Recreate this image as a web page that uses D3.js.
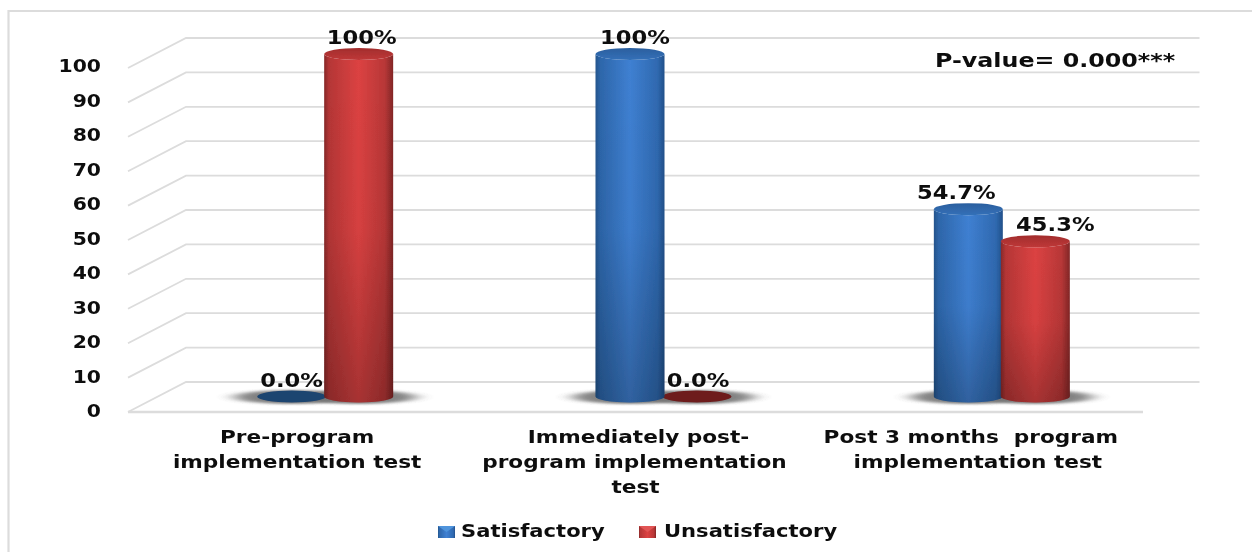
<!DOCTYPE html>
<html>
<head>
<meta charset="utf-8">
<script src="https://cdn.jsdelivr.net/npm/d3@7"></script>
<style>
  html, body { margin: 0; padding: 0; background: #fff; }
  text { font-family: "DejaVu Sans", Verdana, sans-serif; font-weight: bold; fill: #111; }
</style>
</head>
<body>
<svg id="chart" width="1252" height="552"></svg>
<script>
// values
const categories = ['Pre-program implementation test', 'Immediately post-program implementation test', 'Post 3 months program implementation test'];
const categoryLines = [
  ['Pre-program', 'implementation test'],
  ['Immediately post-', 'program implementation', 'test'],
  ['Post 3 months  program', 'implementation test']
];
const seriesNames = ['Satisfactory', 'Unsatisfactory'];
const satisfactory = [0, 100, 54.7];
const unsatisfactory = [100, 0, 45.3];
const labelsSatisfactory = ['0.0%', '100%', '54.7%'];
const labelsUnsatisfactory = ['100%', '0.0%', '45.3%'];
const yTicks = [0, 10, 20, 30, 40, 50, 60, 70, 80, 90, 100];
const pValue = 'P-value= 0.000***';

const width = 1252, height = 552;
const svg = d3.select('#chart');
const defs = svg.append('defs');

// text in the source is stretched sideways, keep it real text and widen it
function stretch(sel, k) {
  sel.each(function () {
    const len = this.getComputedTextLength();
    d3.select(this).attr('textLength', len * k).attr('lengthAdjust', 'spacingAndGlyphs');
  });
}

function cylGradient(id, stops) {
  const g = defs.append('linearGradient').attr('id', id);
  stops.forEach(s => g.append('stop').attr('offset', s[0]).attr('stop-color', s[1]));
}
cylGradient('blueBody', [[0, '#24548c'], [0.07, '#2d66aa'], [0.5, '#3f80d2'], [0.9, '#2f69b0'], [1, '#22508a']]);
cylGradient('redBody', [[0, '#862828'], [0.07, '#b53636'], [0.5, '#dc4242'], [0.88, '#b83737'], [1, '#822626']]);

const shade = defs.append('linearGradient').attr('id', 'shade').attr('x2', 0).attr('y2', 1);
shade.append('stop').attr('offset', 0).attr('stop-color', '#000').attr('stop-opacity', 0);
shade.append('stop').attr('offset', 0.5).attr('stop-color', '#000').attr('stop-opacity', 0.03);
shade.append('stop').attr('offset', 1).attr('stop-color', '#000').attr('stop-opacity', 0.24);

const topBlue = defs.append('linearGradient').attr('id', 'blueTop').attr('x2', 0).attr('y2', 1);
topBlue.append('stop').attr('offset', 0).attr('stop-color', '#2b5f9e');
topBlue.append('stop').attr('offset', 1).attr('stop-color', '#3370b8');
const topRed = defs.append('linearGradient').attr('id', 'redTop').attr('x2', 0).attr('y2', 1);
topRed.append('stop').attr('offset', 0).attr('stop-color', '#a22d2d');
topRed.append('stop').attr('offset', 1).attr('stop-color', '#bf3838');

defs.append('filter').attr('id', 'soft').attr('x', '-40%').attr('y', '-150%').attr('width', '180%').attr('height', '400%')
  .append('feGaussianBlur').attr('stdDeviation', '9 1.3');
defs.append('filter').attr('id', 'fuzz').attr('x', 0).attr('y', 0)
  .attr('filterUnits', 'userSpaceOnUse').attr('width', width).attr('height', height)
  .append('feGaussianBlur').attr('stdDeviation', 0.45);

const root = svg.append('g').attr('filter', 'url(#fuzz)');

// outer frame, only left and top show
root.append('path')
  .attr('d', `M8.5,${height} V11 H${width}`)
  .attr('fill', 'none').attr('stroke', '#dcdcdc').attr('stroke-width', 2.2);

// scales
const x0 = d3.scaleBand().domain(d3.range(categories.length)).range([156, 1171]);
const x1 = d3.scalePoint().domain(seriesNames).range([-33.5, 33.5]);
const yWall = d3.scaleLinear().domain([0, 100]).range([382, 38]);
const yBar = d3.scaleLinear().domain([0, 100]).range([396.5, 54]);
const yLabel = d3.scaleLinear().domain([0, 100]).range([411, 66]);

// back wall gridlines with the side wall going down to the left
const wallLeft = 186, wallRight = 1199.5, sideLeft = 128, floorDrop = 30, floorRight = 1143;
const grid = root.append('g').attr('fill', 'none').attr('stroke', '#dcdcdc').attr('stroke-width', 1.8);
grid.selectAll('path').data(yTicks).join('path')
  .attr('d', d => `M${sideLeft},${yWall(d) + floorDrop} L${wallLeft},${yWall(d)} H${wallRight}`);
grid.append('path')
  .attr('d', `M${sideLeft},${yWall(0) + floorDrop} H${floorRight}`)
  .attr('stroke-width', 2.4);

// y axis labels
const yAxis = root.append('g')
  .attr('transform', 'translate(101,0)')
  .call(d3.axisLeft(yLabel).tickValues(yTicks).tickSize(0).tickPadding(0));
yAxis.select('.domain').remove();
yAxis.selectAll('text').style('font-size', '18px').attr('fill', null);
yAxis.attr('font-family', null).attr('font-size', null);
stretch(yAxis.selectAll('text'), 1.13);

// one row per bar
const bars = [];
categories.forEach((c, i) => {
  bars.push({ i, series: seriesNames[0], value: satisfactory[i], label: labelsSatisfactory[i], key: 'blue' });
  bars.push({ i, series: seriesNames[1], value: unsatisfactory[i], label: labelsUnsatisfactory[i], key: 'red' });
});
const rx = 34.5, ry = 6;
const barX = d => x0(d.i) + x0.bandwidth() / 2 + x1(d.series);

// shadows on the floor
root.append('g').selectAll('ellipse').data(bars).join('ellipse')
  .attr('cx', barX).attr('cy', yBar(0) + 0.5)
  .attr('rx', rx + 22).attr('ry', 7)
  .attr('fill', '#757575').attr('opacity', 0.9)
  .attr('filter', 'url(#soft)');

// cylinders, flat ones go behind their neighbour
const ordered = d3.sort(bars, d => d.value === 0 ? 0 : 1);
const cyl = root.append('g').selectAll('g').data(ordered).join('g');
const bodyPath = d => {
  const cx = barX(d), t = yBar(d.value), b = yBar(0);
  return `M${cx - rx},${t} V${b} A${rx},${ry} 0 0 0 ${cx + rx},${b} V${t} A${rx},${ry} 0 0 1 ${cx - rx},${t} Z`;
};
cyl.filter(d => d.value > 0).append('path').attr('d', bodyPath).attr('fill', d => `url(#${d.key}Body)`);
cyl.filter(d => d.value > 0).append('path').attr('d', bodyPath).attr('fill', 'url(#shade)');
cyl.append('ellipse')
  .attr('cx', barX).attr('cy', d => yBar(d.value))
  .attr('rx', rx).attr('ry', ry)
  .attr('fill', d => d.value === 0 ? (d.key === 'blue' ? '#1f4470' : '#6e1c1c') : `url(#${d.key}Top)`);

// data labels were moved by hand in the source
const labelShift = { blue: [0, 5, -12], red: [3, 1, 20] };
const dataLabels = root.append('g').selectAll('text').data(bars).join('text')
  .attr('x', d => barX(d) + labelShift[d.key][d.i])
  .attr('y', d => yBar(d.value) - 10)
  .attr('text-anchor', 'middle')
  .style('font-size', '20px')
  .text(d => d.label);
stretch(dataLabels, 1.13);

// category labels
const catShift = -28;
const lineShift = [[0, 0], [3, -1, 0], [-3, 4]];
const catG = root.append('g').selectAll('g').data(categoryLines).join('g');
const catText = catG.selectAll('text').data((lines, i) => lines.map((t, j) => ({ t, i, j }))).join('text')
  .attr('x', d => x0(d.i) + x0.bandwidth() / 2 + catShift + lineShift[d.i][d.j])
  .attr('y', d => 443 + d.j * 25)
  .attr('text-anchor', 'middle')
  .style('white-space', 'pre')
  .style('font-size', '18px')
  .text(d => d.t);
stretch(catText, 1.2);

// p-value note
stretch(root.append('text')
  .attr('x', 935).attr('y', 67)
  .style('font-size', '19px')
  .text(pValue), 1.25);

// legend
const legendSwatch = [438, 639], legendText = [461, 664];
const legend = root.append('g').selectAll('g').data(seriesNames).join('g');
legend.append('rect')
  .attr('x', (d, i) => legendSwatch[i]).attr('y', 526)
  .attr('width', 17).attr('height', 12)
  .attr('fill', (d, i) => i ? 'url(#redBody)' : 'url(#blueBody)');
legend.append('path')
  .attr('d', (d, i) => `M${legendSwatch[i]},526 h17 l-8.5,6 Z`)
  .attr('fill', (d, i) => i ? '#e25555' : '#4f94dc');
stretch(legend.append('text')
  .attr('x', (d, i) => legendText[i]).attr('y', 537)
  .style('font-size', '18px')
  .text(d => d), 1.17);
</script>
</body>
</html>
